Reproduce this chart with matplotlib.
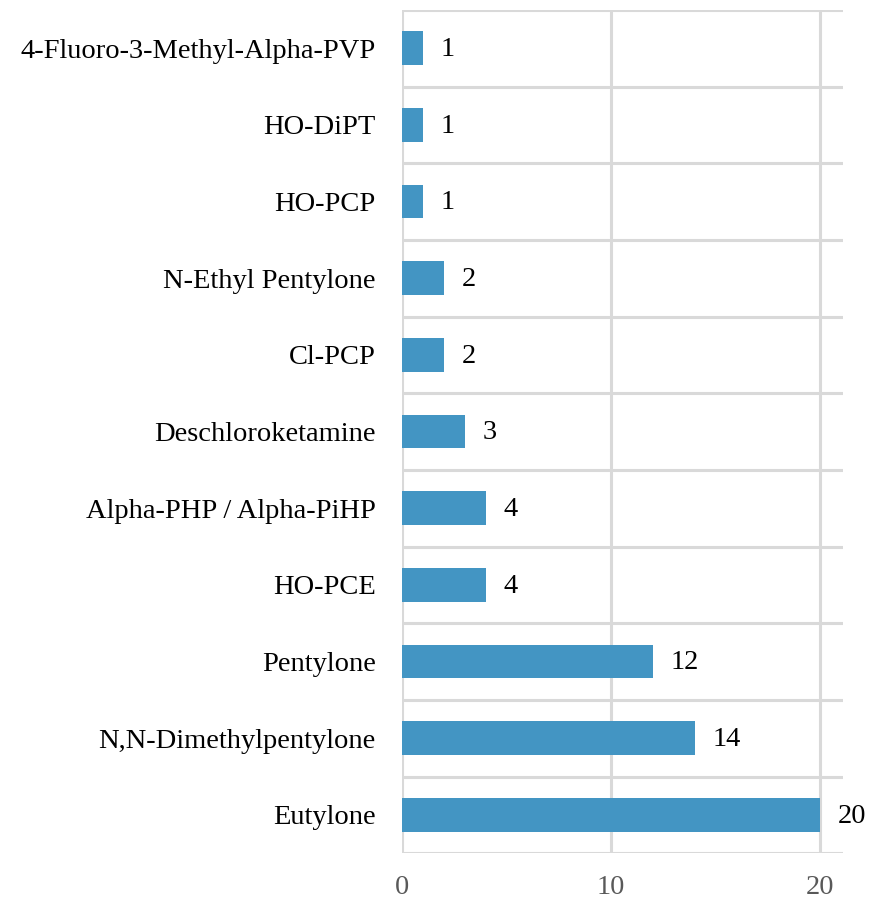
import matplotlib.pyplot as plt
import numpy as np

plt.rcParams['font.family'] = ['Liberation Serif', 'DejaVu Serif']

# данные (снизу вверх)
substances = ["Eutylone", "N,N-Dimethylpentylone", "Pentylone", "HO-PCE",
              "Alpha-PHP / Alpha-PiHP", "Deschloroketamine", "Cl-PCP",
              "N-Ethyl Pentylone", "HO-PCP", "HO-DiPT",
              "4-Fluoro-3-Methyl-Alpha-PVP"]
counts = [20, 14, 12, 4, 4, 3, 2, 2, 1, 1, 1]
xticks = [0, 10, 20]

grid_c = '#d9d9d9'
bar_c = '#4395c3'
fs = 20.5

fig = plt.figure(figsize=(8.71, 9.0), dpi=100)
ax = fig.add_axes([0.4615, 0.052, 0.5065, 0.937])

y = np.arange(len(substances))
ax.barh(y, counts, height=0.44, color=bar_c, zorder=3)

for yi, v in zip(y, counts):
    ax.annotate(str(v), (v, yi), xytext=(13, -1), textcoords='offset points',
                ha='left', va='center', fontsize=fs, color='black')

ax.set_xlim(0, 21.1)
ax.set_ylim(-0.5, len(substances) - 0.5)
ax.set_yticks(y)
ax.set_yticklabels(substances, fontsize=fs)
ax.set_xticks(xticks)
ax.set_xticklabels([str(t) for t in xticks], fontsize=fs, color='#595959')
ax.tick_params(axis='y', length=0, pad=19)
ax.tick_params(axis='x', length=0, pad=16)

# линии сетки: вертикальные по делениям, горизонтальные между категориями
ax.set_yticks(np.arange(-0.5, len(substances), 1.0), minor=True)
ax.tick_params(axis='y', which='minor', length=0)
ax.grid(axis='x', which='major', color=grid_c, linewidth=2.2, zorder=0)
ax.grid(axis='y', which='minor', color=grid_c, linewidth=2.2, zorder=0)
for s in ax.spines.values():
    s.set_visible(False)

fig.savefig('out.png', dpi=100)
